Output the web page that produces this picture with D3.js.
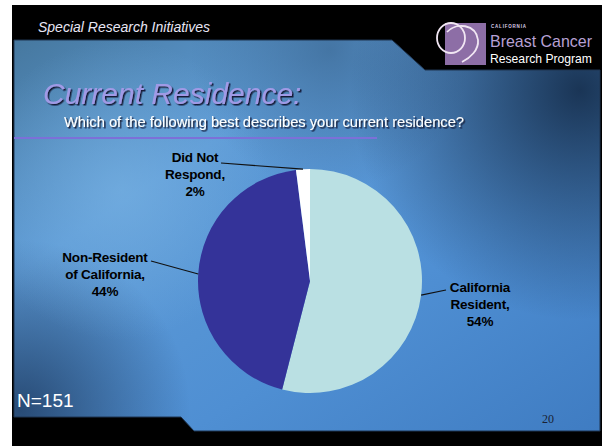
<!DOCTYPE html>
<html>
<head>
<meta charset="utf-8">
<script src="https://cdn.jsdelivr.net/npm/d3@7"></script>
<style>
  html, body { margin: 0; padding: 0; background: #fff; }
  svg { display: block; }
</style>
</head>
<body>
<div id="chart"></div>
<script>
// slide data
const categories = ["California Resident", "Non-Resident of California", "Did Not Respond"]
const values = [54, 44, 2]
const labelLines = [["California", "Resident,", "54%"], ["Non-Resident", "of California,", "44%"], ["Did Not", "Respond,", "2%"]]
const sampleSize = "N=151"
const pageNumber = "20"

const width = 604
const height = 446
const cx = 310, cy = 281, radius = 112 // pie placement

const color = d3.scaleOrdinal()
    .domain(categories)
    .range(["#bae0e3", "#343399", "#ffffff"])

// where each label block ends up (x = centre of text, y = first baseline), and the leader end
const labelLayout = [
    { x: 480, y: 292, lx: 446, ly: 290 },
    { x: 105, y: 262, lx: 151, ly: 261 },
    { x: 195, y: 162, lx: 221, ly: 163 }
]

const svg = d3.select("#chart")
    .append("svg")
    .attr("width", width)
    .attr("height", height)

const defs = svg.append("defs")

// panel background
const bg = defs.append("linearGradient").attr("id", "bg")
    .attr("x1", 0).attr("y1", 0).attr("x2", 1).attr("y2", 1)
bg.append("stop").attr("offset", 0).attr("stop-color", "#46789f")
bg.append("stop").attr("offset", 0.3).attr("stop-color", "#5e9bd6")
bg.append("stop").attr("offset", 0.65).attr("stop-color", "#4f8fd3")
bg.append("stop").attr("offset", 1).attr("stop-color", "#3f7cc2")

const darkTR = defs.append("radialGradient").attr("id", "darkTR")
    .attr("gradientUnits", "userSpaceOnUse").attr("cx", 580).attr("cy", 90).attr("r", 230)
darkTR.append("stop").attr("offset", 0).attr("stop-color", "#17304f").attr("stop-opacity", 0.95)
darkTR.append("stop").attr("offset", 1).attr("stop-color", "#17304f").attr("stop-opacity", 0)

const darkBL = defs.append("radialGradient").attr("id", "darkBL")
    .attr("gradientUnits", "userSpaceOnUse").attr("cx", 20).attr("cy", 410).attr("r", 170)
darkBL.append("stop").attr("offset", 0).attr("stop-color", "#23436b").attr("stop-opacity", 0.9)
darkBL.append("stop").attr("offset", 1).attr("stop-color", "#23436b").attr("stop-opacity", 0)

const darkTL = defs.append("radialGradient").attr("id", "darkTL")
    .attr("gradientUnits", "userSpaceOnUse").attr("cx", 330).attr("cy", 50).attr("r", 140)
darkTL.append("stop").attr("offset", 0).attr("stop-color", "#3a6690").attr("stop-opacity", 0.7)
darkTL.append("stop").attr("offset", 1).attr("stop-color", "#3a6690").attr("stop-opacity", 0)

const lightBand = defs.append("radialGradient").attr("id", "light")
    .attr("gradientUnits", "userSpaceOnUse").attr("cx", 120).attr("cy", 190).attr("r", 150)
lightBand.append("stop").attr("offset", 0).attr("stop-color", "#7ab4e4").attr("stop-opacity", 0.6)
lightBand.append("stop").attr("offset", 1).attr("stop-color", "#7ab4e4").attr("stop-opacity", 0)

const shadow = defs.append("filter").attr("id", "shadow")
    .attr("x", "-10%").attr("y", "-20%").attr("width", "130%").attr("height", "150%")
shadow.append("feDropShadow").attr("dx", 1.5).attr("dy", 1.5).attr("stdDeviation", 0.6)
    .attr("flood-color", "#0c0c25").attr("flood-opacity", 0.9)

// black slide frame
svg.append("rect")
    .attr("x", 12).attr("y", 5)
    .attr("width", 590).attr("height", height - 5)
    .attr("fill", "#000")

const panel = "M14,40 L392,40 L425,70 L600,70 L600,431 L194,431 L181,417 L14,417 Z"
svg.append("path").attr("d", panel).attr("fill", "url(#bg)")
;["darkTL", "darkTR", "darkBL", "light"].forEach(id => {
    svg.append("path").attr("d", panel).attr("fill", `url(#${id})`)
})
svg.append("path").attr("d", panel).attr("fill", "none")
    .attr("stroke", "#1f3550").attr("stroke-width", 1)

// header
svg.append("text")
    .attr("x", 38).attr("y", 32)
    .attr("font-family", "Liberation Sans, Arial, sans-serif")
    .attr("font-style", "italic")
    .attr("font-size", 14)
    .attr("fill", "#e8e6f4")
    .text("Special Research Initiatives")

// logo
const logo = svg.append("g")
logo.append("rect").attr("x", 445).attr("y", 23).attr("width", 41).attr("height", 42).attr("fill", "#8d6ea6")
logo.append("ellipse").attr("cx", 451).attr("cy", 38).attr("rx", 14).attr("ry", 15)
    .attr("fill", "none").attr("stroke", "#f1e6f3").attr("stroke-width", 1.8)
logo.append("path").attr("d", "M447,32 C456,22 476,24 478,40 C479,50 470,58 462,62")
    .attr("fill", "none").attr("stroke", "#f1e6f3").attr("stroke-width", 1.8)
logo.append("text").attr("x", 491).attr("y", 28)
    .attr("font-family", "Liberation Sans, Arial, sans-serif").attr("font-weight", "bold")
    .attr("font-size", 4.5).attr("letter-spacing", 0.8).attr("fill", "#d9cce6")
    .text("CALIFORNIA")
logo.append("text").attr("x", 490).attr("y", 47)
    .attr("font-family", "Liberation Sans Narrow, Liberation Sans, Arial, sans-serif")
    .attr("font-size", 17).attr("fill", "#b7a0d4")
    .attr("textLength", 102).attr("lengthAdjust", "spacingAndGlyphs")
    .text("Breast Cancer")
logo.append("text").attr("x", 490).attr("y", 63)
    .attr("font-family", "Liberation Sans Narrow, Liberation Sans, Arial, sans-serif")
    .attr("font-size", 13).attr("fill", "#ffffff")
    .attr("textLength", 102).attr("lengthAdjust", "spacingAndGlyphs")
    .text("Research Program")

// title
svg.append("text")
    .attr("x", 43).attr("y", 104)
    .attr("font-family", "Liberation Sans, Arial, sans-serif")
    .attr("font-style", "italic")
    .attr("font-size", 30)
    .attr("fill", "#a09ae6")
    .attr("filter", "url(#shadow)")
    .text("Current Residence:")

svg.append("text")
    .attr("x", 64).attr("y", 127)
    .attr("font-family", "Liberation Sans, Arial, sans-serif")
    .attr("font-size", 14.7)
    .attr("fill", "#ffffff")
    .attr("filter", "url(#shadow)")
    .text("Which of the following best describes your current residence?")

svg.append("line")
    .attr("x1", 14).attr("x2", 377).attr("y1", 138).attr("y2", 138)
    .attr("stroke", "#7c70d8").attr("stroke-width", 2)

// pie
const pie = d3.pie().sort(null).value(d => d.value)
const arcs = pie(categories.map((c, i) => ({ name: c, value: values[i], lines: labelLines[i] })))
const arc = d3.arc().innerRadius(0).outerRadius(radius)

const pieG = svg.append("g").attr("transform", `translate(${cx},${cy})`)
pieG.selectAll("path")
    .data(arcs)
    .enter()
    .append("path")
    .attr("d", arc)
    .attr("fill", d => color(d.data.name))

// leader lines start on the rim at each slice's middle angle
const rim = d => {
    const a = (d.startAngle + d.endAngle) / 2
    return [cx + radius * Math.sin(a), cy - radius * Math.cos(a)]
}
svg.selectAll(".leader")
    .data(arcs)
    .enter()
    .append("line")
    .attr("class", "leader")
    .attr("x1", d => rim(d)[0])
    .attr("y1", d => rim(d)[1])
    .attr("x2", (d, i) => labelLayout[i].lx)
    .attr("y2", (d, i) => labelLayout[i].ly)
    .attr("stroke", "#111")
    .attr("stroke-width", 1.2)

const labels = svg.selectAll(".slice-label")
    .data(arcs)
    .enter()
    .append("text")
    .attr("class", "slice-label")
    .attr("text-anchor", "middle")
    .attr("font-family", "Liberation Sans, Arial, sans-serif")
    .attr("font-weight", "bold")
    .attr("font-size", 13.5)
    .attr("letter-spacing", -0.2)
    .attr("fill", "#000")

labels.selectAll("tspan")
    .data((d, i) => d.data.lines.map(t => ({ t, i })))
    .enter()
    .append("tspan")
    .attr("x", d => labelLayout[d.i].x)
    .attr("y", (d, j) => labelLayout[d.i].y + j * 17)
    .text(d => d.t)

// footer
svg.append("text")
    .attr("x", 17).attr("y", 407)
    .attr("font-family", "Liberation Sans, Arial, sans-serif")
    .attr("font-size", 19)
    .attr("fill", "#ffffff")
    .text(sampleSize)

svg.append("text")
    .attr("x", 542).attr("y", 423)
    .attr("font-family", "Liberation Serif, Times New Roman, serif")
    .attr("font-size", 12)
    .attr("fill", "#1a2233")
    .text(pageNumber)
</script>
</body>
</html>
